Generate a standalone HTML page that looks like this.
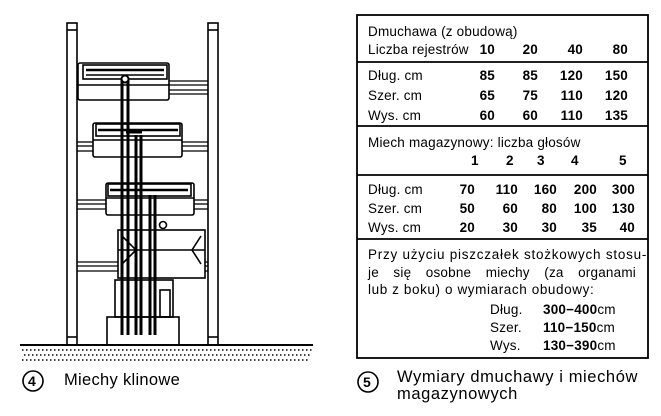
<!DOCTYPE html>
<html><head><meta charset="utf-8"><style>
html,body{margin:0;padding:0;background:#fff;}
body{width:661px;height:416px;position:relative;overflow:hidden;font-family:"Liberation Sans",sans-serif;color:#000;}
.t{position:absolute;font-size:13.5px;line-height:14px;white-space:nowrap;letter-spacing:0.2px;}
.b{font-weight:bold;}
.r{text-align:right;}
</style></head><body>
<svg width="661" height="416" style="position:absolute;left:0;top:0" xmlns="http://www.w3.org/2000/svg">
<g fill="none" stroke="#000" stroke-width="1.6">
<rect x="67" y="23" width="10" height="322"/>
<rect x="208" y="23" width="10" height="322"/>
<line x1="67" y1="30" x2="77" y2="30"/><line x1="208" y1="30" x2="218" y2="30"/>
<line x1="67" y1="337" x2="77" y2="337"/><line x1="208" y1="337" x2="218" y2="337"/>
<g stroke-width="1.3">
<line x1="169" y1="81" x2="208" y2="81"/><line x1="169" y1="85" x2="208" y2="85"/><line x1="169" y1="90" x2="208" y2="90"/><line x1="169" y1="94" x2="208" y2="94"/>
<line x1="77" y1="142" x2="93" y2="142"/><line x1="77" y1="146" x2="93" y2="146"/><line x1="77" y1="151" x2="93" y2="151"/>
<line x1="182" y1="142" x2="208" y2="142"/><line x1="182" y1="146" x2="208" y2="146"/><line x1="182" y1="151" x2="208" y2="151"/>
<line x1="77" y1="200" x2="106" y2="200"/><line x1="77" y1="204" x2="106" y2="204"/><line x1="77" y1="209" x2="106" y2="209"/>
<line x1="194" y1="200" x2="208" y2="200"/><line x1="194" y1="204" x2="208" y2="204"/><line x1="194" y1="209" x2="208" y2="209"/>
<line x1="77" y1="262" x2="118" y2="262"/><line x1="77" y1="266" x2="118" y2="266"/><line x1="77" y1="271" x2="118" y2="271"/>
<line x1="205" y1="262" x2="208" y2="262"/><line x1="205" y1="266" x2="208" y2="266"/><line x1="205" y1="271" x2="208" y2="271"/>
</g>
<rect x="78" y="63" width="91" height="37" rx="2"/>
<rect x="83" y="65" width="84" height="14"/>
<line x1="86" y1="70" x2="164" y2="70" stroke-width="2.5"/><line x1="86" y1="75" x2="164" y2="75"/>
<line x1="78" y1="85" x2="169" y2="85"/>
<rect x="93" y="123" width="89" height="34" rx="2"/>
<rect x="96" y="124" width="84" height="12"/>
<line x1="98" y1="130" x2="178" y2="130" stroke-width="2.5"/>
<line x1="93" y1="140" x2="182" y2="140"/>
<rect x="106" y="183" width="88" height="32" rx="2"/>
<rect x="108" y="184" width="83" height="12"/>
<line x1="110" y1="190" x2="188" y2="190" stroke-width="2.5"/>
<line x1="106" y1="198" x2="194" y2="198"/>
<rect x="118" y="230" width="87" height="48"/>
<line x1="118" y1="250" x2="205" y2="250"/>
<polyline points="122,236 136,250 122,264"/>
<polyline points="201,236 192,250 201,264"/>
<circle cx="163" cy="225" r="3.5"/>
<rect x="115" y="280" width="58" height="37"/>
<rect x="160" y="290" width="10" height="27"/>
<rect x="107" y="317" width="72" height="28"/>
</g>
<g stroke="#000" stroke-width="3">
<line x1="122" y1="80" x2="122" y2="335"/>
<line x1="128" y1="80" x2="128" y2="335"/>
<line x1="136" y1="135" x2="136" y2="335"/>
<line x1="141" y1="135" x2="141" y2="335"/>
<line x1="150" y1="195" x2="150" y2="335"/>
<line x1="155" y1="195" x2="155" y2="335"/>
<line x1="126" y1="132" x2="142" y2="132"/>
</g>
<circle cx="125" cy="79" r="3.5" fill="#fff" stroke="#000" stroke-width="2"/>
<line x1="20" y1="345" x2="313" y2="345" stroke="#000" stroke-width="2"/>
<g stroke="#000" stroke-width="1.5" stroke-dasharray="1.5 2.5">
<line x1="22" y1="350" x2="312" y2="350"/><line x1="24" y1="355" x2="310" y2="355"/><line x1="22" y1="360" x2="308" y2="360"/>
</g>
<circle cx="33" cy="381" r="10" fill="none" stroke="#000" stroke-width="1.6"/>
<circle cx="368" cy="382" r="10" fill="none" stroke="#000" stroke-width="1.6"/>
<g stroke="#000" fill="none" stroke-width="1.8">
<rect x="357" y="15" width="291" height="343"/>
<line x1="357" y1="62" x2="648" y2="62"/>
<line x1="357" y1="126" x2="648" y2="126"/>
<line x1="357" y1="175" x2="648" y2="175"/>
<line x1="357" y1="239" x2="648" y2="239"/>
</g>
</svg>
<div class="t" style="left:28px;top:374px;font-size:14px;font-weight:bold">4</div>
<div class="t" style="left:64px;top:373px;font-size:16.5px;letter-spacing:0.3px">Miechy klinowe</div>
<div class="t" style="left:363px;top:375px;font-size:14px;font-weight:bold">5</div>
<div class="t" style="left:397px;top:370px;font-size:16.5px;letter-spacing:0.6px">Wymiary dmuchawy i miechów</div>
<div class="t" style="left:397px;top:387px;font-size:16.5px;letter-spacing:0.6px">magazynowych</div>

<div class="t" style="left:368px;top:25px">Dmuchawa (z obudową)</div>
<div class="t" style="left:368px;top:43px">Liczba rejestrów</div>
<div class="t b r" style="left:455px;width:40px;top:43px">10</div>
<div class="t b r" style="left:498px;width:40px;top:43px">20</div>
<div class="t b r" style="left:543px;width:40px;top:43px">40</div>
<div class="t b r" style="left:588px;width:40px;top:43px">80</div>

<div class="t" style="left:368px;top:69px">Dług. cm</div>
<div class="t" style="left:368px;top:89px">Szer. cm</div>
<div class="t" style="left:368px;top:109px">Wys. cm</div>
<div class="t b r" style="left:455px;width:40px;top:69px">85</div>
<div class="t b r" style="left:455px;width:40px;top:89px">65</div>
<div class="t b r" style="left:455px;width:40px;top:109px">60</div>
<div class="t b r" style="left:498px;width:40px;top:69px">85</div>
<div class="t b r" style="left:498px;width:40px;top:89px">75</div>
<div class="t b r" style="left:498px;width:40px;top:109px">60</div>
<div class="t b r" style="left:543px;width:40px;top:69px">120</div>
<div class="t b r" style="left:543px;width:40px;top:89px">110</div>
<div class="t b r" style="left:543px;width:40px;top:109px">110</div>
<div class="t b r" style="left:588px;width:40px;top:69px">150</div>
<div class="t b r" style="left:588px;width:40px;top:89px">120</div>
<div class="t b r" style="left:588px;width:40px;top:109px">135</div>

<div class="t" style="left:368px;top:136px">Miech magazynowy: liczba głosów</div>
<div class="t b" style="left:471px;top:154px">1</div>
<div class="t b" style="left:506px;top:154px">2</div>
<div class="t b" style="left:537px;top:154px">3</div>
<div class="t b" style="left:571px;top:154px">4</div>
<div class="t b" style="left:619px;top:154px">5</div>

<div class="t" style="left:368px;top:183px">Dług. cm</div>
<div class="t" style="left:368px;top:202px">Szer. cm</div>
<div class="t" style="left:368px;top:221px">Wys. cm</div>
<div class="t b r" style="left:435px;width:40px;top:183px">70</div>
<div class="t b r" style="left:435px;width:40px;top:202px">50</div>
<div class="t b r" style="left:435px;width:40px;top:221px">20</div>
<div class="t b r" style="left:478px;width:40px;top:183px">110</div>
<div class="t b r" style="left:478px;width:40px;top:202px">60</div>
<div class="t b r" style="left:478px;width:40px;top:221px">30</div>
<div class="t b r" style="left:517px;width:40px;top:183px">160</div>
<div class="t b r" style="left:517px;width:40px;top:202px">80</div>
<div class="t b r" style="left:517px;width:40px;top:221px">30</div>
<div class="t b r" style="left:557px;width:40px;top:183px">200</div>
<div class="t b r" style="left:557px;width:40px;top:202px">100</div>
<div class="t b r" style="left:557px;width:40px;top:221px">35</div>
<div class="t b r" style="left:595px;width:40px;top:183px">300</div>
<div class="t b r" style="left:595px;width:40px;top:202px">130</div>
<div class="t b r" style="left:595px;width:40px;top:221px">40</div>

<div class="t" style="left:368px;top:248px;letter-spacing:0.75px">Przy użyciu piszczałek stożkowych stosu-</div>
<div class="t" style="left:368px;top:266px;width:268px;text-align:justify;text-align-last:justify">je się osobne miechy (za organami</div>
<div class="t" style="left:368px;top:283px;letter-spacing:0.6px">lub z boku) o wymiarach obudowy:</div>
<div class="t" style="left:490px;top:303px">Dług.</div>
<div class="t" style="left:490px;top:321px">Szer.</div>
<div class="t" style="left:490px;top:339px">Wys.</div>
<div class="t" style="left:543px;top:303px"><b>300−400</b>cm</div>
<div class="t" style="left:543px;top:321px"><b>110−150</b>cm</div>
<div class="t" style="left:543px;top:339px"><b>130−390</b>cm</div>
</body></html>
